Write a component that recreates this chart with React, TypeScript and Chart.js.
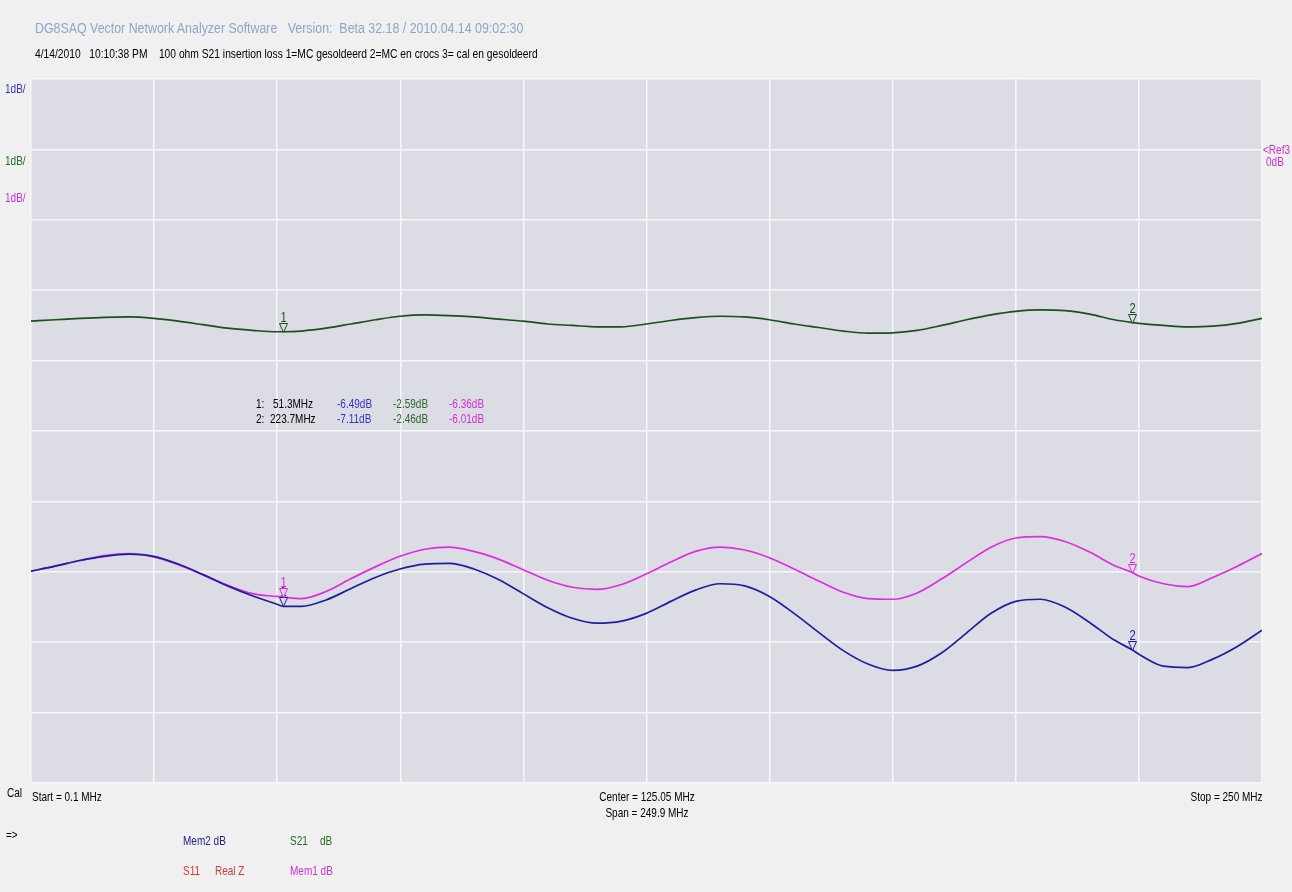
import React, { useEffect, useRef } from "react";
import { Chart, registerables } from "chart.js";

Chart.register(...registerables);

// ---------- data ----------
const FREQ_MHZ = [
  0.1, 5, 10, 15, 20, 25, 30, 35, 40, 45, 50, 51.3, 55, 60, 65, 70, 75, 80, 85, 90,
  95, 100, 105, 110, 115, 120, 125, 130, 135, 140, 145, 150, 155, 160, 165, 170, 175,
  180, 185, 190, 195, 200, 205, 210, 215, 220, 223.7, 225, 230, 235, 240, 245, 250,
];

const MEM2_DB = [
  -5.99, -5.92, -5.84, -5.78, -5.75, -5.78, -5.89, -6.04, -6.2, -6.34, -6.46, -6.49, -6.49,
  -6.4, -6.24, -6.08, -5.96, -5.89, -5.88, -5.96, -6.11, -6.31, -6.51, -6.66, -6.73, -6.7,
  -6.59, -6.42, -6.26, -6.17, -6.2, -6.35, -6.59, -6.86, -7.12, -7.31, -7.4, -7.34, -7.15,
  -6.87, -6.59, -6.42, -6.39, -6.5, -6.72, -6.97, -7.11, -7.17, -7.34, -7.36, -7.24, -7.06,
  -6.83,
];

const S21_DB = [
  -2.44, -2.42, -2.4, -2.385, -2.38, -2.4, -2.44, -2.49, -2.54, -2.57, -2.59, -2.59, -2.58,
  -2.54, -2.48, -2.42, -2.37, -2.35, -2.36, -2.38, -2.41, -2.44, -2.48, -2.5, -2.52, -2.52,
  -2.48, -2.43, -2.39, -2.37, -2.38, -2.42, -2.48, -2.53, -2.58, -2.61, -2.605, -2.57, -2.5,
  -2.42, -2.35, -2.3, -2.28, -2.29, -2.34, -2.42, -2.46, -2.47, -2.5, -2.52, -2.51, -2.47,
  -2.4,
];

const MEM1_DB = [
  -5.99, -5.92, -5.84, -5.77, -5.74, -5.79, -5.9, -6.04, -6.19, -6.31, -6.35, -6.36, -6.38,
  -6.28, -6.1, -5.93, -5.78, -5.68, -5.65, -5.71, -5.82, -5.97, -6.12, -6.22, -6.25, -6.18,
  -6.03, -5.86, -5.71, -5.65, -5.69, -5.8, -5.96, -6.13, -6.29, -6.38, -6.39, -6.3, -6.1,
  -5.87, -5.65, -5.52, -5.5, -5.57, -5.72, -5.91, -6.01, -6.06, -6.17, -6.21, -6.08, -5.92,
  -5.74,
];

const MARKER_FREQS = [51.3, 223.7];
const X_GRID_MHZ = [0.1, 25.09, 50.08, 75.07, 100.06, 125.05, 150.04, 175.03, 200.02, 225.01, 250];
const Y_MIN_DB = -9;
const Y_MAX_DB = 1;
const Y_STEP_DB = 1;

const START_LABEL = "Start = 0.1 MHz";
const CENTER_LABEL = "Center = 125.05 MHz";
const SPAN_LABEL = "Span = 249.9 MHz";
const STOP_LABEL = "Stop = 250 MHz";

// ---------- styles ----------
const FONT = '"Liberation Sans", Arial, sans-serif';
const PLOT_BG = "#dcdce4";
const C_BLUE = "#1e1ea0";
const C_GREEN = "#1b501b";
const C_MAG = "#e02ce0";
const C_BLUE_TXT = "#3434c4";
const C_GREEN_TXT = "#2a6a2a";
const C_MAG_TXT = "#d030d0";
const SQUEEZE = 0.77;

const W = 1292;
const H = 892;

const plotBg = {
  id: "plotBg",
  beforeDraw(chart: any) {
    const { ctx, chartArea } = chart;
    ctx.save();
    ctx.fillStyle = PLOT_BG;
    ctx.fillRect(chartArea.left, chartArea.top, chartArea.right - chartArea.left, chartArea.bottom - chartArea.top);
    ctx.restore();
  },
};

const markerPlugin = {
  id: "markers",
  afterDatasetsDraw(chart: any) {
    const { ctx } = chart;
    const xs = chart.scales.x;
    const ys = chart.scales.y;
    ctx.save();
    ctx.textAlign = "center";
    ctx.textBaseline = "alphabetic";
    chart.data.datasets.forEach((ds: any) => {
      MARKER_FREQS.forEach((f, mi) => {
        const idx = FREQ_MHZ.indexOf(f);
        const v = ds.data[idx].y;
        const px = Math.round(xs.getPixelForValue(f)) + 0.5;
        const py = Math.round(ys.getPixelForValue(v)) + 0.5;
        ctx.strokeStyle = ds.markColor;
        ctx.fillStyle = PLOT_BG;
        ctx.lineWidth = 1;
        ctx.beginPath();
        ctx.moveTo(px - 4, py - 9);
        ctx.lineTo(px + 4, py - 9);
        ctx.lineTo(px, py);
        ctx.closePath();
        ctx.fill();
        ctx.stroke();
        ctx.fillStyle = ds.markColor;
        ctx.save();
        ctx.translate(px, py - 11);
        ctx.scale(0.8, 1);
        ctx.font = `14px ${FONT}`;
        ctx.fillText(String(mi + 1), 0, 0);
        ctx.restore();
      });
    });
    ctx.restore();
  },
};

function Txt(props: { x: number; y: number; color?: string; size?: number; sx?: number; align?: "left" | "center" | "right"; children: any }) {
  const { x, y, color = "#000", size = 13, sx = SQUEEZE, align = "left", children } = props;
  const lh = size + 4;
  const style: any = {
    position: "absolute",
    top: y - lh / 2,
    lineHeight: `${lh}px`,
    fontSize: size,
    fontFamily: FONT,
    color,
    whiteSpace: "pre",
  };
  if (align === "left") {
    style.left = x;
    style.transform = `scaleX(${sx})`;
    style.transformOrigin = "left center";
  }
  if (align === "right") {
    style.right = W - x;
    style.transform = `scaleX(${sx})`;
    style.transformOrigin = "right center";
  }
  if (align === "center") {
    style.left = x;
    style.transform = `translateX(-50%) scaleX(${sx})`;
    style.transformOrigin = "center center";
  }
  return <div style={style}>{children}</div>;
}

export default function App() {
  const ref = useRef<HTMLCanvasElement | null>(null);

  useEffect(() => {
    document.body.style.margin = "0";
    const mk = (vals: number[]) => FREQ_MHZ.map((f, i) => ({ x: f, y: vals[i] }));
    const chart = new Chart(ref.current as HTMLCanvasElement, {
      type: "line",
      data: {
        datasets: [
          { label: "Mem2 dB", data: mk(MEM2_DB), borderColor: C_BLUE, markColor: C_BLUE } as any,
          { label: "Mem1 dB", data: mk(MEM1_DB), borderColor: C_MAG, markColor: C_MAG } as any,
          { label: "S21 dB", data: mk(S21_DB), borderColor: C_GREEN, markColor: C_GREEN } as any,
        ].map((d: any) => ({
          ...d,
          borderWidth: 1.7,
          pointRadius: 0,
          fill: false,
          cubicInterpolationMode: "monotone",
        })),
      },
      options: {
        animation: false,
        responsive: false,
        devicePixelRatio: 1,
        layout: { padding: { left: 31, right: 30, top: 79, bottom: 109 } },
        plugins: { legend: { display: false }, tooltip: { enabled: false }, title: { display: false } },
        events: [],
        scales: {
          x: {
            type: "linear",
            min: 0.1,
            max: 250,
            afterBuildTicks: (axis: any) => {
              axis.ticks = X_GRID_MHZ.map((v) => ({ value: v }));
            },
            ticks: { display: false },
            grid: { color: "#f7f7fa", lineWidth: 1.5, drawTicks: false },
            border: { display: false },
          },
          y: {
            type: "linear",
            min: Y_MIN_DB,
            max: Y_MAX_DB,
            ticks: { display: false, stepSize: Y_STEP_DB },
            grid: { color: "#f7f7fa", lineWidth: 1.5, drawTicks: false },
            border: { display: false },
          },
        },
      } as any,
      plugins: [plotBg, markerPlugin],
    });
    return () => chart.destroy();
  }, []);

  const fmt = (v: number) => `${v.toFixed(2)}dB`;
  const rows = MARKER_FREQS.map((f) => {
    const i = FREQ_MHZ.indexOf(f);
    return { f, b: MEM2_DB[i], g: S21_DB[i], m: MEM1_DB[i] };
  });

  return (
    <div style={{ position: "absolute", left: 0, top: 0, width: W, height: H, background: "#f0f0f0", overflow: "hidden" }}>
      <canvas ref={ref} width={W} height={H} style={{ position: "absolute", left: 0, top: 0 }} />
      <Txt x={35} y={28} size={14} sx={0.885} color="#8ea6c6">
        {"DG8SAQ Vector Network Analyzer Software   Version:  Beta 32.18 / 2010.04.14 09:02:30"}
      </Txt>
      <Txt x={35} y={53} size={13} sx={0.79}>
        {"4/14/2010   10:10:38 PM    100 ohm S21 insertion loss 1=MC gesoldeerd 2=MC en crocs 3= cal en gesoldeerd"}
      </Txt>
      <Txt x={5} y={88} color={C_BLUE_TXT}>1dB/</Txt>
      <Txt x={5} y={160} color={C_GREEN_TXT}>1dB/</Txt>
      <Txt x={5} y={197} color={C_MAG_TXT}>1dB/</Txt>
      <Txt x={1263} y={149} color={C_MAG_TXT}>{"<Ref3"}</Txt>
      <Txt x={1266} y={161} color={C_MAG_TXT}>0dB</Txt>
      {rows.map((r, k) => (
        <React.Fragment key={k}>
          <Txt x={256} y={403 + k * 15}>{`${k + 1}:`}</Txt>
          <Txt x={k === 0 ? 273 : 270} y={403 + k * 15}>{`${r.f}MHz`}</Txt>
          <Txt x={337} y={403 + k * 15} color={C_BLUE_TXT}>{fmt(r.b)}</Txt>
          <Txt x={393} y={403 + k * 15} color={C_GREEN_TXT}>{fmt(r.g)}</Txt>
          <Txt x={449} y={403 + k * 15} color={C_MAG_TXT}>{fmt(r.m)}</Txt>
        </React.Fragment>
      ))}
      <Txt x={7} y={792}>Cal</Txt>
      <Txt x={32} y={796}>{START_LABEL}</Txt>
      <Txt x={647} y={796} align="center">{CENTER_LABEL}</Txt>
      <Txt x={647} y={812} align="center">{SPAN_LABEL}</Txt>
      <Txt x={1263} y={796} align="right">{STOP_LABEL}</Txt>
      <Txt x={6} y={834}>{"=>"}</Txt>
      <Txt x={183} y={840} color="#23238e">{"Mem2 dB"}</Txt>
      <Txt x={290} y={840} color={C_GREEN_TXT}>S21</Txt>
      <Txt x={320} y={840} color={C_GREEN_TXT}>dB</Txt>
      <Txt x={183} y={870} color="#d23a3a">S11</Txt>
      <Txt x={215} y={870} color="#d23a3a">Real Z</Txt>
      <Txt x={290} y={870} color={C_MAG_TXT}>{"Mem1 dB"}</Txt>
    </div>
  );
}
